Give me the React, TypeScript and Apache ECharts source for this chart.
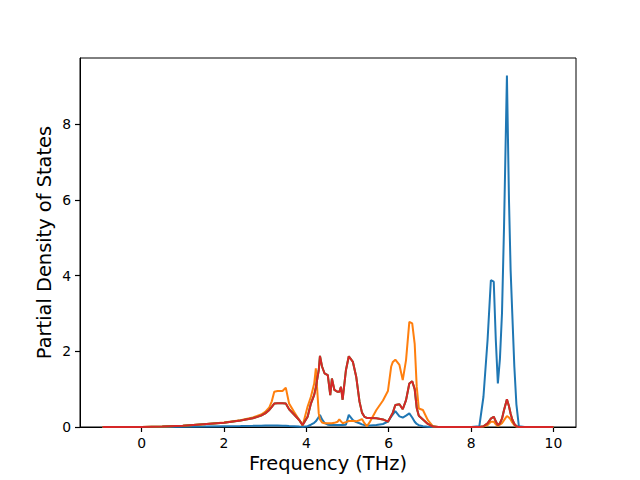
import React, { useEffect, useRef } from "react";
import * as echarts from "echarts";

const freq = [
  -0.95, -0.5, 0, 0.5, 1.0, 1.5, 2.0, 2.4, 2.7, 2.9, 3.0, 3.1, 3.16, 3.22, 3.3, 3.42, 3.5, 3.58, 3.7, 3.83,
  3.91, 4.03, 4.11, 4.19, 4.23, 4.3, 4.33, 4.38, 4.44, 4.52, 4.58, 4.62, 4.68, 4.76, 4.8, 4.84, 4.88, 4.96,
  5.03, 5.13, 5.21, 5.29, 5.35, 5.41, 5.47, 5.55, 5.7, 5.86, 5.98, 6.06, 6.1, 6.16, 6.26, 6.34, 6.42, 6.5,
  6.57, 6.63, 6.68, 6.73, 6.83, 6.95, 7.07, 7.2, 7.5, 8.0, 8.2, 8.3, 8.4, 8.48, 8.55, 8.6, 8.65, 8.7, 8.75,
  8.8, 8.87, 8.92, 8.96, 9.0, 9.05, 9.1, 9.16, 9.3, 10.0,
];

const dosBlue = [
  0, 0, 0, 0.003, 0.008, 0.012, 0.02, 0.025, 0.03, 0.035, 0.04, 0.04, 0.04, 0.04, 0.04, 0.035, 0.03, 0.025, 0.02, 0.01,
  0.005, 0.02, 0.06, 0.11, 0.15, 0.26, 0.32, 0.2, 0.11, 0.06, 0.05, 0.05, 0.05, 0.05, 0.05, 0.05, 0.05, 0.06,
  0.32, 0.18, 0.13, 0.1, 0.07, 0.05, 0.04, 0.04, 0.05, 0.08, 0.14, 0.27, 0.33, 0.42, 0.28, 0.25, 0.3, 0.36,
  0.25, 0.14, 0.08, 0.05, 0.02, 0.005, 0, 0, 0, 0, 0.02, 0.8, 2.3, 3.88, 3.84, 2.3, 1.15, 1.8, 3.0,
  5.3, 9.29, 6.0, 4.14, 3.0, 1.6, 0.6, 0.02, 0, 0,
];

const dosOrange = [
  0, 0, 0, 0.01, 0.03, 0.07, 0.12, 0.18, 0.25, 0.33, 0.4, 0.52, 0.68, 0.93, 0.95, 0.95, 1.04, 0.62, 0.4, 0.18,
  0.04, 0.54, 0.8, 1.15, 1.55, 0.36, 0.2, 0.12, 0.1, 0.1, 0.1, 0.1, 0.11, 0.14, 0.2, 0.15, 0.1, 0.13,
  0.16, 0.16, 0.15, 0.18, 0.21, 0.1, 0.02, 0.15, 0.45, 0.7, 0.95, 1.6, 1.72, 1.78, 1.64, 1.24, 1.77, 2.78,
  2.74, 2.2, 1.06, 0.49, 0.45, 0.18, 0.02, 0, 0, 0, 0, 0.01, 0.05, 0.14, 0.14, 0.07, 0.03, 0.06, 0.1,
  0.18, 0.29, 0.25, 0.2, 0.12, 0.05, 0.01, 0, 0, 0,
];

const dosRed = [
  0, 0, 0.003, 0.01, 0.03, 0.07, 0.11, 0.17, 0.23, 0.3, 0.36, 0.45, 0.53, 0.62, 0.63, 0.63, 0.62, 0.47, 0.33, 0.18,
  0.05, 0.27, 0.62, 0.85, 1.05, 1.5, 1.88, 1.6, 1.42, 1.37, 0.84, 1.28, 0.98, 0.93, 0.93, 1.06, 0.72, 1.5,
  1.87, 1.72, 1.33, 0.67, 0.38, 0.27, 0.24, 0.24, 0.23, 0.2, 0.14, 0.3, 0.38, 0.58, 0.6, 0.47, 0.71, 1.15,
  1.21, 1.0, 0.5, 0.3, 0.2, 0.08, 0.01, 0, 0, 0, 0, 0.02, 0.1, 0.22, 0.27, 0.15, 0.05, 0.1, 0.22,
  0.45, 0.73, 0.55, 0.35, 0.2, 0.08, 0.02, 0, 0, 0,
];

const xTicks = [0, 2, 4, 6, 8, 10];
const yTicks = [0, 2, 4, 6, 8];

const FONT = "DejaVu Sans";

export default function App() {
  const ref = useRef<HTMLDivElement>(null);
  useEffect(() => {
    const chart = echarts.init(ref.current as HTMLDivElement, null, { renderer: "svg" });
    const mk = (name: string, vals: number[], color: string) => ({
      type: "line",
      name,
      data: freq.map((f, i) => [f, vals[i]]),
      showSymbol: false,
      symbol: "none",
      lineStyle: { color, width: 2 },
      itemStyle: { color },
      emphasis: { disabled: true },
    });
    const xMin = -0.95 - 0.05 * 10.95;
    const xMax = 10.0 + 0.05 * 10.95;
    const yMax = 9.29 * 1.05;
    chart.setOption({
      animation: false,
      backgroundColor: "#ffffff",
      grid: {
        left: 80,
        top: 58,
        width: 496,
        height: 369,
        containLabel: false,
        show: true,
        borderColor: "#000000",
        borderWidth: 1,
        backgroundColor: "transparent",
      },
      xAxis: {
        type: "value",
        min: xMin,
        max: xMax,
        name: "Frequency (THz)",
        nameLocation: "middle",
        nameGap: 27,
        nameMoveOverlap: false,
        nameTextStyle: { fontFamily: FONT, fontSize: 19.4, color: "#000" },
        axisLine: { show: true, onZero: false, lineStyle: { color: "#000", width: 1 } },
        splitLine: { show: false },
        axisTick: { show: true, length: 5, lineStyle: { color: "#000", width: 1.2 }, customValues: xTicks },
        axisLabel: { fontFamily: FONT, fontSize: 13.9, color: "#000", margin: 9, customValues: xTicks },
      },
      yAxis: {
        type: "value",
        min: 0,
        max: yMax,
        name: "Partial Density of States",
        nameLocation: "middle",
        nameGap: 26,
        nameMoveOverlap: false,
        nameTextStyle: { fontFamily: FONT, fontSize: 19.4, color: "#000" },
        axisLine: { show: true, onZero: false, lineStyle: { color: "#000", width: 1 } },
        splitLine: { show: false },
        axisTick: { show: true, length: 5, lineStyle: { color: "#000", width: 1.2 }, customValues: yTicks },
        axisLabel: { fontFamily: FONT, fontSize: 13.9, color: "#000", margin: 9, customValues: yTicks },
      },
      series: [
        mk("s1", dosBlue, "#1f77b4"),
        mk("s2", dosOrange, "#ff7f0e"),
        mk("s3", dosRed, "#2ca02c"),
        mk("s4", dosRed, "#d62728"),
      ],
    });
    return () => chart.dispose();
  }, []);
  return (
    <div
      ref={ref}
      style={{ position: "absolute", left: 0, top: 0, width: 640, height: 480, background: "#fff" }}
    />
  );
}
